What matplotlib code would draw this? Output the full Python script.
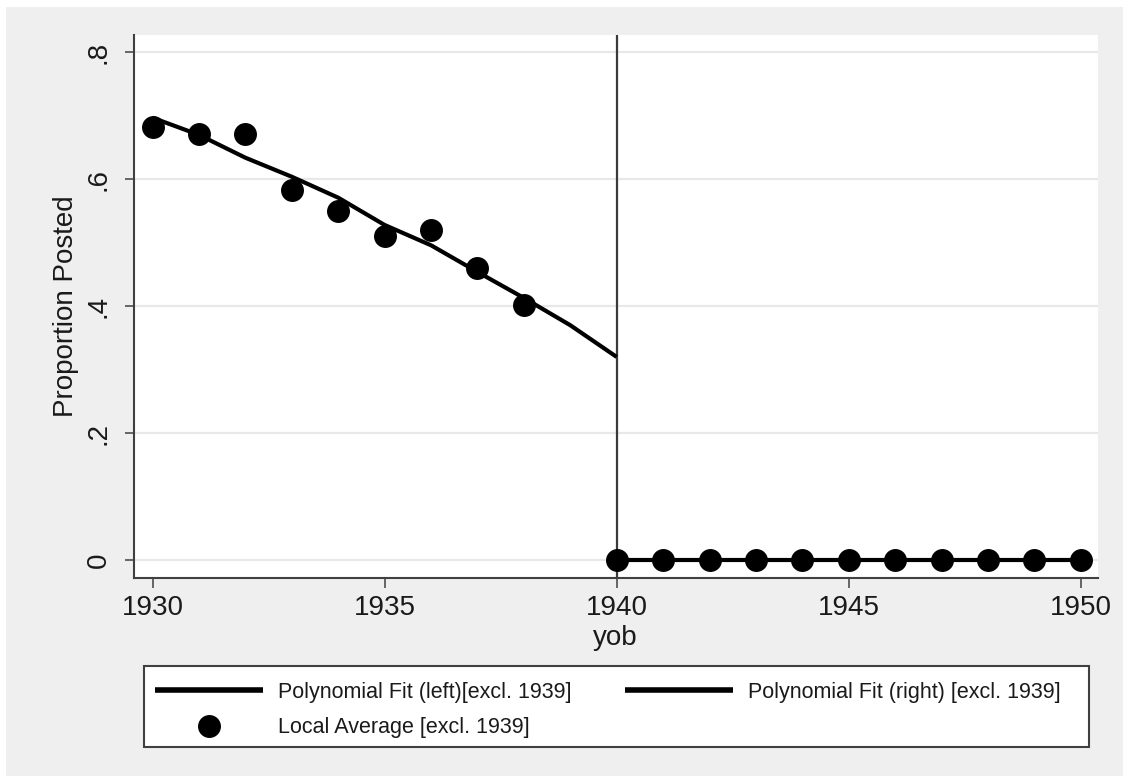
'''Regression-discontinuity plot: proportion posted by year of birth.'''
import numpy as np
import matplotlib
matplotlib.use("Agg")
import matplotlib.pyplot as plt
from matplotlib.patches import Rectangle

plt.rcParams['font.family'] = ['Liberation Sans', 'DejaVu Sans']

# --- data ---
yob_left = [1930, 1931, 1932, 1933, 1934, 1935, 1936, 1937, 1938]
avg_left = [0.683, 0.671, 0.671, 0.583, 0.550, 0.511, 0.520, 0.460, 0.402]
yob_right = [1940, 1941, 1942, 1943, 1944, 1945, 1946, 1947, 1948, 1949, 1950]
avg_right = [0, 0, 0, 0, 0, 0, 0, 0, 0, 0, 0]

fit_x_left = [1930, 1931, 1932, 1933, 1934, 1935, 1936, 1937, 1938, 1939, 1940]
fit_y_left = [0.697, 0.670, 0.634, 0.604, 0.571, 0.528, 0.496, 0.454, 0.413, 0.370, 0.320]
fit_x_right = [1940, 1941, 1942, 1943, 1944, 1945, 1946, 1947, 1948, 1949, 1950]
fit_y_right = [0, 0, 0, 0, 0, 0, 0, 0, 0, 0, 0]

cutoff = 1940
xticks = [1930, 1935, 1940, 1945, 1950]
yticks = [0, 0.2, 0.4, 0.6, 0.8]
ytick_labels = ["0", ".2", ".4", ".6", ".8"]

# --- figure ---
W, H = 1123, 776
fig = plt.figure(figsize=(W / 100, H / 100), dpi=100, facecolor="#efefef")
# thin white margin on top / left as in the exported picture
fig.patches.append(Rectangle((0, 1 - 7 / H), 1, 7 / H, transform=fig.transFigure,
                             facecolor="white", edgecolor="none", zorder=-1))
fig.patches.append(Rectangle((0, 0), 6 / W, 1, transform=fig.transFigure,
                             facecolor="white", edgecolor="none", zorder=-1))

ax = fig.add_axes([133.5 / W, 1 - 578 / H, (1098 - 133.5) / W, (578 - 35) / H])
ax.set_facecolor("white")

ax.plot(fit_x_left, fit_y_left, color="black", lw=3, solid_capstyle="butt",
        label="Polynomial Fit (left)[excl. 1939]", zorder=3)
ax.plot(fit_x_right, fit_y_right, color="black", lw=3, solid_capstyle="butt",
        label="Polynomial Fit (right) [excl. 1939]", zorder=3)
ax.plot(yob_left + yob_right, avg_left + avg_right, linestyle="none", marker="o",
        markersize=15.5, color="black", label="Local Average [excl. 1939]", zorder=4)
ax.axvline(cutoff, color="#3a3a3a", lw=1.6, zorder=2)

ax.set_xlim(1929.59, 1950.37)
ax.set_ylim(-0.0284, 0.8274)

ax.set_xticks(xticks)
ax.set_yticks(yticks)
ax.set_yticklabels(ytick_labels, rotation=90, va="center")
ax.tick_params(axis="both", labelsize=20, color="#404040", width=1.1, labelcolor="#1a1a1a")
ax.tick_params(axis="x", length=7, pad=5)
ax.tick_params(axis="y", length=6.5, pad=9)

ax.grid(True, axis="y", color="#e8e8e8", lw=1.6, zorder=0)
ax.set_axisbelow(True)
for s in ["top", "right"]:
    ax.spines[s].set_visible(False)
for s in ["left", "bottom"]:
    ax.spines[s].set_color("#404040")
    ax.spines[s].set_linewidth(1.5)

ax.set_xlabel("yob", fontsize=20, color="#1a1a1a", labelpad=3)
ax.set_ylabel("Proportion Posted", fontsize=20, color="#1a1a1a", labelpad=5)

# legend box drawn separately; entries placed inside it
fig.patches.append(Rectangle((144 / W, 1 - 747 / H), (1089 - 144) / W, (747 - 666) / H,
                             transform=fig.transFigure, facecolor="white",
                             edgecolor="#404040", lw=1.5, zorder=1))
h, l = ax.get_legend_handles_labels()
order = [0, 2, 1]
leg = fig.legend([h[i] for i in order], [l[i] for i in order],
                 loc="center left", ncol=2, bbox_to_anchor=(155 / W, 1 - 710 / H),
                 fontsize=15.5, frameon=False, handlelength=5.0, handletextpad=0.7,
                 columnspacing=2.5, labelspacing=0.66, borderpad=0, borderaxespad=0)
leg.set_zorder(2)
for t in leg.get_texts():
    t.set_color("#1a1a1a")
for lh in leg.get_lines():
    lh.set_linewidth(4)

fig.savefig("out.png", dpi=100, facecolor=fig.get_facecolor())
